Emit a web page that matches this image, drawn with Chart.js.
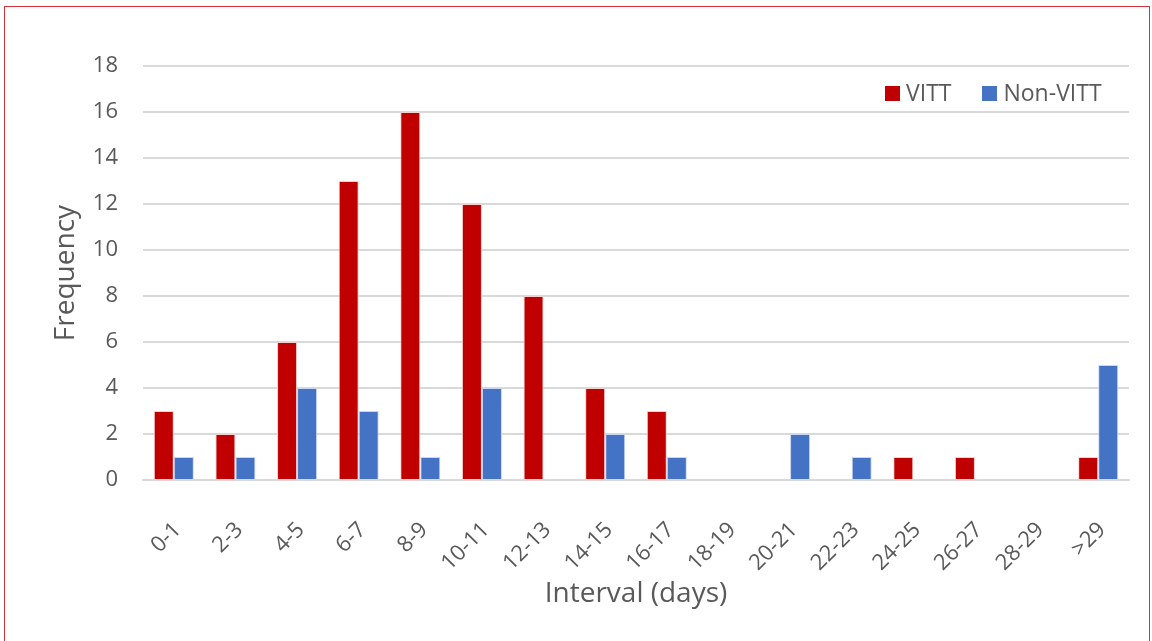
<!DOCTYPE html>
<html>
<head>
<meta charset="utf-8">
<script src="https://cdn.jsdelivr.net/npm/chart.js@4.4.0/dist/chart.umd.min.js"></script>
<style>
  body { margin: 0; background: #fff; }
  #frame { position: absolute; left: 4px; top: 6px; width: 1146px; height: 640px; border: 1px solid #d6323c; box-sizing: border-box; }
  #wrap { position: absolute; left: 0; top: 0; width: 1152px; height: 641px; }
  #legend { position: absolute; top: 76px; left: 885px; font-family: "Open Sans", sans-serif; font-size: 23px; color: #595959; white-space: nowrap; }
  #legend span.box { display: inline-block; width: 15px; height: 15px; margin-right: 6px; vertical-align: 0px; }
  #legend span.item { margin-right: 25px; }
</style>
</head>
<body>
<div id="frame"></div>
<div id="wrap"><canvas id="chart" width="1152" height="641"></canvas></div>
<div id="legend">
  <span class="item"><span class="box" style="background:#c00000"></span>VITT</span>
  <span class="item"><span class="box" style="background:#4472c4"></span>Non-VITT</span>
</div>
<script>
// 区間ラベル
const categories = ['0-1', '2-3', '4-5', '6-7', '8-9', '10-11', '12-13', '14-15', '16-17',
    '18-19', '20-21', '22-23', '24-25', '26-27', '28-29', '>29'];
// VITT の度数
const vittValues = [3, 2, 6, 13, 16, 12, 8, 4, 3, 0, 0, 0, 1, 1, 0, 1];
// Non-VITT の度数
const nonVittValues = [1, 1, 4, 3, 1, 4, 0, 2, 1, 0, 2, 1, 0, 0, 0, 5];
// Y軸の目盛り
const yTicks = [0, 2, 4, 6, 8, 10, 12, 14, 16, 18];

const font = '"Open Sans", sans-serif';
const grey = '#595959';

function createChart() {
    const ctx = document.getElementById('chart').getContext('2d');
    new Chart(ctx, {
        type: 'bar',
        data: {
            labels: categories,
            datasets: [{
                label: 'VITT',
                data: vittValues,
                backgroundColor: '#c00000',
                borderColor: '#f4d0d0',
                borderWidth: 1,
                barPercentage: 1.0,
                categoryPercentage: 0.65
            }, {
                label: 'Non-VITT',
                data: nonVittValues,
                backgroundColor: '#4472c4',
                borderColor: '#c9d6ef',
                borderWidth: 1,
                barPercentage: 1.0,
                categoryPercentage: 0.65
            }]
        },
        options: {
            responsive: false,
            animation: false,
            layout: { padding: { left: 49, right: 23, top: 66, bottom: 30 } },
            plugins: {
                legend: { display: false },
                tooltip: { enabled: false }
            },
            scales: {
                x: {
                    // 回転ラベルの左右余白を消し、高さを固定する
                    afterFit: s => { s.paddingLeft = 0; s.paddingRight = 0; s.height = 131; },
                    grid: { display: false, drawTicks: false },
                    border: { color: '#d9d9d9', width: 2 },
                    ticks: {
                        color: grey,
                        font: { family: font, size: 22 },
                        maxRotation: 45,
                        minRotation: 45,
                        padding: 37,
                        labelOffset: 4
                    },
                    title: {
                        display: true,
                        text: 'Interval (days)',
                        color: grey,
                        font: { family: font, size: 28 },
                        padding: 0
                    }
                },
                y: {
                    min: 0,
                    max: 18,
                    afterFit: s => { s.width = 94; },
                    afterBuildTicks: axis => { axis.ticks = yTicks.map(v => ({ value: v })); },
                    grid: { color: '#d9d9d9', lineWidth: 2, drawTicks: false },
                    border: { display: false },
                    ticks: {
                        color: grey,
                        font: { family: font, size: 22 },
                        padding: 25
                    },
                    title: {
                        display: true,
                        text: 'Frequency',
                        color: grey,
                        font: { family: font, size: 28 },
                        padding: { top: 0, bottom: 11 }
                    }
                }
            }
        }
    });
}

window.onload = function() {
    createChart();
};
</script>
</body>
</html>
